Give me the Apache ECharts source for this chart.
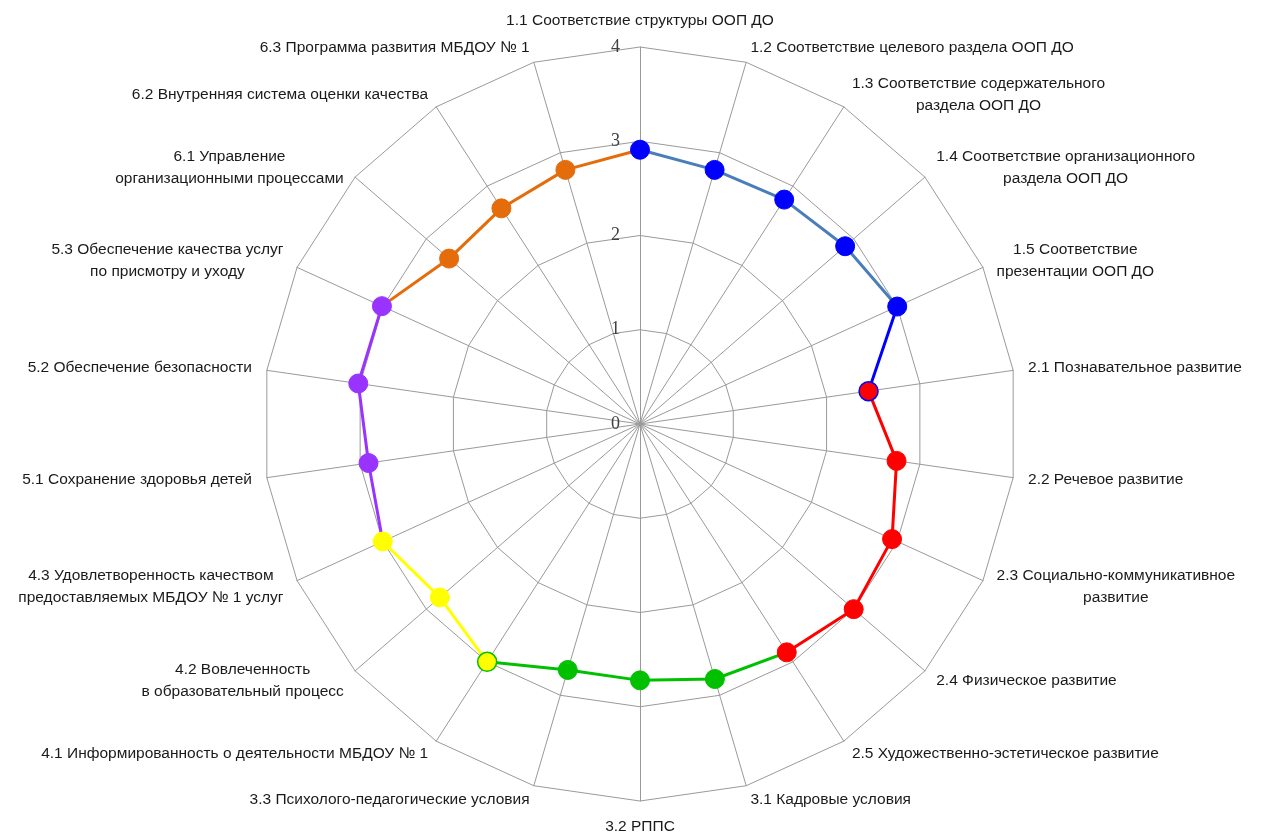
<!DOCTYPE html>
<html><head><meta charset="utf-8">
<script src="https://cdn.jsdelivr.net/npm/echarts@6/dist/echarts.min.js"></script>
<style>html,body{margin:0;padding:0;background:#fff}#c{width:1263px;height:838px}</style>
</head><body><div id="c"></div>
<script>
const categories = [
  '1.1 Соответствие структуры ООП ДО',
  '1.2 Соответствие целевого раздела ООП ДО',
  '1.3 Соответствие содержательного\nраздела ООП ДО',
  '1.4 Соответствие организационного\nраздела ООП ДО',
  '1.5 Соответствие\nпрезентации ООП ДО',
  '2.1 Познавательное развитие',
  '2.2 Речевое развитие',
  '2.3 Социально-коммуникативное\nразвитие',
  '2.4 Физическое развитие',
  '2.5 Художественно-эстетическое развитие',
  '3.1 Кадровые условия',
  '3.2 РППС',
  '3.3 Психолого-педагогические условия',
  '4.1 Информированность о деятельности МБДОУ № 1',
  '4.2 Вовлеченность\nв образовательный процесс',
  '4.3 Удовлетворенность качеством\nпредоставляемых МБДОУ № 1 услуг',
  '5.1 Сохранение здоровья детей',
  '5.2 Обеспечение безопасности',
  '5.3 Обеспечение качества услуг\nпо присмотру и уходу',
  '6.1 Управление\nорганизационными процессами',
  '6.2 Внутренняя система оценки качества',
  '6.3 Программа развития МБДОУ № 1'
];
const values = [2.91, 2.81, 2.83, 2.88, 3.00, 2.45, 2.75, 2.94, 3.00, 2.88, 2.82, 2.72, 2.72, 3.00, 2.81, 3.00, 2.91, 3.02, 3.01, 2.68, 2.72, 2.81];
const tickValues = [0, 1, 2, 3, 4];
const axisMax = 4;

// line segments (index ranges; index 22 wraps to 1.1)
const lineSegments = [
  { from: 0, to: 4, color: '#4A7EBB' },
  { from: 18, to: 22, color: '#E46C0A' },
  { from: 15, to: 18, color: '#9933FF' },
  { from: 13, to: 15, color: '#FFFF00' },
  { from: 9, to: 13, color: '#00C000' },
  { from: 4, to: 5, color: '#0000FF' },
  { from: 5, to: 9, color: '#FF0000' }
];
// marker groups
const markerGroups = [
  { from: 0, to: 4, color: '#0000FF' },
  { from: 10, to: 12, color: '#00C000' },
  { from: 13, to: 15, color: '#FFFF00', firstBorder: '#00C000' },
  { from: 16, to: 18, color: '#9933FF' },
  { from: 19, to: 21, color: '#E46C0A' },
  { from: 5, to: 9, color: '#FF0000', firstBorder: '#0000FF' }
];

const N = categories.length;
const nameFont = "'Liberation Sans', Arial, sans-serif";
const nameSize = 15.5;
const indicator = [categories[0]].concat(categories.slice(1).reverse()).map(n => ({ name: n, min: 0, max: axisMax }));

const series = [];
lineSegments.forEach(seg => {
  const data = [];
  for (let i = seg.from; i <= seg.to; i++) data.push([values[i % N], i]);
  series.push({
    type: 'line', coordinateSystem: 'polar', data: data, showSymbol: false, symbol: 'none',
    lineStyle: { color: seg.color, width: 3 }, z: 3, silent: true
  });
});
markerGroups.forEach(g => {
  const data = [];
  for (let i = g.from; i <= g.to; i++) {
    const item = { value: [values[i], i] };
    if (i === g.from && g.firstBorder) item.itemStyle = { borderColor: g.firstBorder, borderWidth: 1.5 };
    data.push(item);
  }
  series.push({
    type: 'scatter', coordinateSystem: 'polar', data: data, symbol: 'circle', symbolSize: 19,
    itemStyle: { color: g.color, borderColor: g.color, borderWidth: 1, opacity: 1 }, z: 4, silent: true
  });
});

const chart = echarts.init(document.getElementById('c'));
chart.setOption({
  animation: false,
  backgroundColor: '#ffffff',
  radar: {
    center: [640, 424], radius: 377, startAngle: 90, shape: 'polygon', splitNumber: 4,
    indicator: indicator, nameGap: 15,
    axisName: {
      color: '#1a1a1a', fontFamily: nameFont, fontSize: nameSize, lineHeight: 22,
      formatter: function (name) { return name.split('\n').map(l => '{c|' + l + '}').join('\n'); },
      rich: { c: { align: 'center', color: '#1a1a1a', fontFamily: nameFont, fontSize: nameSize, lineHeight: 22 } }
    },
    axisLine: { lineStyle: { color: '#9a9a9a', width: 1 } },
    splitLine: { lineStyle: { color: '#9a9a9a', width: 1 } },
    splitArea: { show: false },
    axisTick: { show: false },
    axisLabel: { show: false }
  },
  polar: { center: [640, 424], radius: 377 },
  angleAxis: {
    type: 'value', min: 0, max: N, startAngle: 90, clockwise: true,
    axisLine: { show: false }, axisTick: { show: false }, axisLabel: { show: false }, splitLine: { show: false }
  },
  radiusAxis: {
    type: 'value', min: tickValues[0], max: tickValues[tickValues.length - 1], interval: 1,
    axisLine: { show: false }, axisTick: { show: false }, splitLine: { show: false },
    axisLabel: { margin: 20, fontFamily: "'Liberation Serif', 'DejaVu Serif', serif", fontSize: 18, color: '#404040' }
  },
  series: series
});
</script>
</body></html>
